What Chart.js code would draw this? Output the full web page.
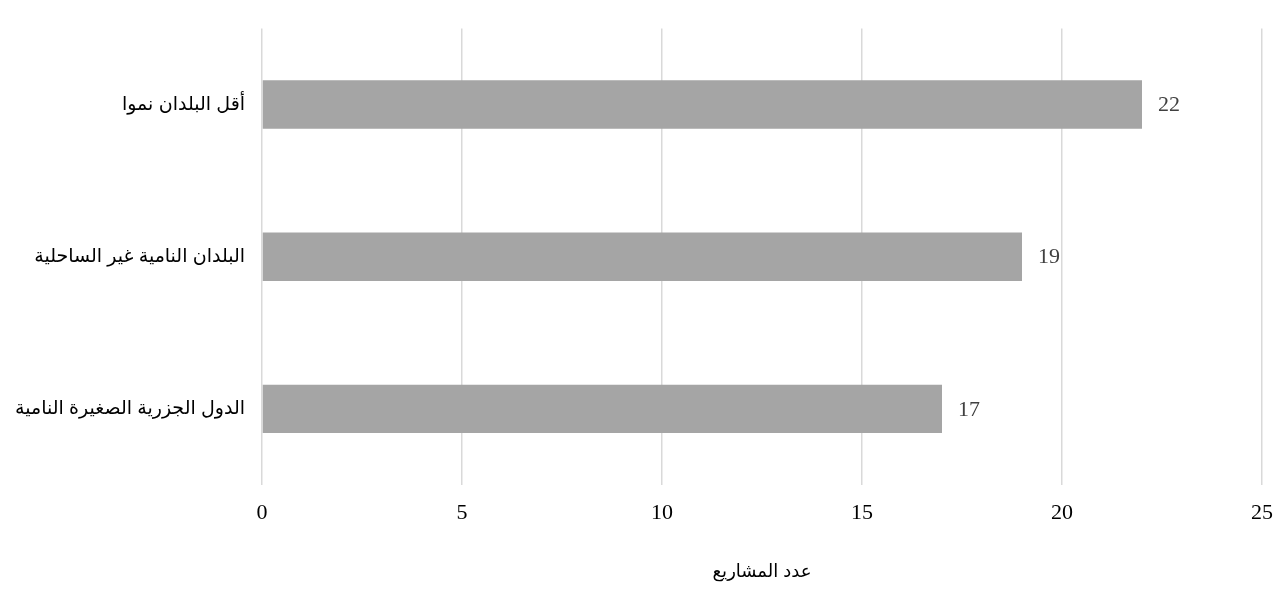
<!DOCTYPE html>
<html>
<head>
<meta charset="utf-8">
<script src="https://cdn.jsdelivr.net/npm/chart.js@4/dist/chart.umd.min.js"></script>
<style>
    body { margin: 0; background: #fff; }
    #wrap { width: 1288px; height: 602px; position: relative; }
</style>
</head>
<body>
<div id="wrap"><canvas id="projectsChart"></canvas></div>
<script>
const categories = ['أقل البلدان نموا', 'البلدان النامية غير الساحلية', 'الدول الجزرية الصغيرة النامية'];
const projectCounts = [22, 19, 17];
const xTicks = [0, 5, 10, 15, 20, 25];
const axisTitle = 'عدد المشاريع';

// draws the number just past the end of each bar
const valueLabels = {
    id: 'valueLabels',
    afterDatasetsDraw(chart) {
        const ctx = chart.ctx;
        const meta = chart.getDatasetMeta(0);
        ctx.save();
        ctx.font = '22px "Liberation Serif", "Times New Roman", serif';
        ctx.fillStyle = '#404040';
        ctx.textAlign = 'left';
        ctx.textBaseline = 'middle';
        meta.data.forEach((bar, i) => {
            ctx.fillText(String(chart.data.datasets[0].data[i]), bar.x + 16, bar.y + 1);
        });
        ctx.restore();
    }
};

const chartData = {
    labels: categories,
    datasets: [{
        data: projectCounts,
        backgroundColor: '#a5a5a5',
        borderWidth: 0,
        categoryPercentage: 1,
        barPercentage: 0.318,
    }]
};

new Chart(document.getElementById('projectsChart'), {
    type: 'bar',
    data: chartData,
    plugins: [valueLabels],
    options: {
        indexAxis: 'y',
        responsive: true,
        maintainAspectRatio: false,
        animation: false,
        layout: { padding: { top: 9, right: 21, bottom: 19, left: 0 } },
        plugins: {
            legend: { display: false },
            tooltip: { enabled: false },
        },
        scales: {
            x: {
                min: xTicks[0],
                max: xTicks[xTicks.length - 1],
                afterBuildTicks: (scale) => { scale.ticks = xTicks.map(v => ({ value: v })); },
                grid: { color: '#d9d9d9', lineWidth: 1.5, drawTicks: false },
                border: { display: false },
                ticks: {
                    padding: 15,
                    color: '#000',
                    font: { family: '"Liberation Serif", "Times New Roman", serif', size: 22 },
                },
                title: {
                    display: true,
                    text: axisTitle,
                    color: '#000',
                    padding: { top: 20, bottom: 0 },
                    font: { family: '"Liberation Sans", Arial, "DejaVu Sans", sans-serif', size: 18 },
                },
            },
            y: {
                afterFit: (scale) => { scale.width = 262; },
                grid: { display: false, drawTicks: false },
                border: { display: false },
                ticks: {
                    padding: 17,
                    color: '#000',
                    font: { family: '"Liberation Sans", Arial, "DejaVu Sans", sans-serif', size: 19 },
                },
            },
        },
    },
});
</script>
</body>
</html>
